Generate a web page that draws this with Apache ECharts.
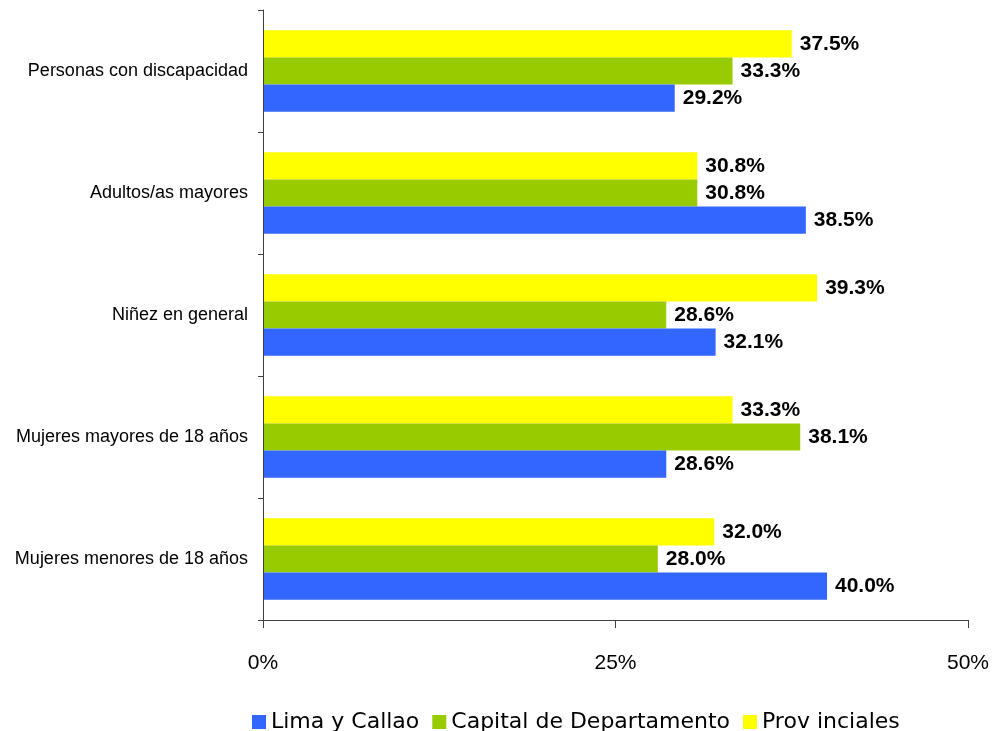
<!DOCTYPE html>
<html>
<head>
<meta charset="utf-8">
<script src="https://cdn.jsdelivr.net/npm/echarts@6/dist/echarts.min.js"></script>
<style>
  html, body { margin: 0; padding: 0; background: #fff; }
  #chart { width: 994px; height: 731px; }
</style>
</head>
<body>
<div id="chart"></div>
<script>
// Categories listed bottom to top
const categories = [
  'Mujeres menores de 18 años',
  'Mujeres mayores de 18 años',
  'Niñez en general',
  'Adultos/as mayores',
  'Personas con discapacidad'
];
const limaCallao = [40.0, 28.6, 32.1, 38.5, 29.2];
const capitalDepartamento = [28.0, 38.1, 28.6, 30.8, 33.3];
const provinciales = [32.0, 33.3, 39.3, 30.8, 37.5];
const seriesNames = ['Lima y Callao', 'Capital de Departamento', 'Prov inciales'];
const xTicks = [0, 25, 50];

const colors = ['#3366FF', '#99CC00', '#FFFF00'];
const labelStyle = {
  show: true,
  position: 'right',
  distance: 8,
  color: '#000',
  fontFamily: 'Liberation Sans',
  fontWeight: 'bold',
  fontSize: 21,
  formatter: p => p.value.toFixed(1) + '%'
};

function makeSeries(name, data, color) {
  return {
    name: name,
    type: 'bar',
    data: data,
    itemStyle: { color: color },
    barGap: '0%',
    barCategoryGap: '33%',
    label: labelStyle
  };
}

const chart = echarts.init(document.getElementById('chart'));
chart.setOption({
  animation: false,
  grid: { left: 263, right: 26, top: 10, bottom: 111, containLabel: false },
  legend: {
    top: 706,
    left: 247,
    itemWidth: 14,
    itemHeight: 14,
    itemGap: 13,
    icon: 'rect',
    textStyle: { fontFamily: 'DejaVu Sans', fontSize: 22, color: '#000' },
    data: seriesNames
  },
  xAxis: {
    type: 'value',
    min: xTicks[0],
    max: xTicks[xTicks.length - 1],
    interval: 25,
    axisLine: { show: true, lineStyle: { color: '#404040', width: 1 } },
    axisTick: { show: true, length: 8, lineStyle: { color: '#404040' } },
    splitLine: { show: false },
    axisLabel: {
      margin: 33,
      fontFamily: 'Liberation Sans',
      fontSize: 21,
      color: '#000',
      formatter: v => v + '%'
    }
  },
  yAxis: {
    type: 'category',
    data: categories,
    z: 10,
    axisLine: { show: true, lineStyle: { color: '#404040', width: 1 } },
    axisTick: { show: true, length: 5, inside: false, lineStyle: { color: '#404040' } },
    axisLabel: {
      margin: 15,
      fontFamily: 'Liberation Sans',
      fontSize: 18,
      color: '#000'
    }
  },
  // Drawn top-down within each band: Provinciales, Capital, Lima y Callao
  series: [
    makeSeries(seriesNames[2], provinciales, colors[2]),
    makeSeries(seriesNames[1], capitalDepartamento, colors[1]),
    makeSeries(seriesNames[0], limaCallao, colors[0])
  ]
});
</script>
</body>
</html>
